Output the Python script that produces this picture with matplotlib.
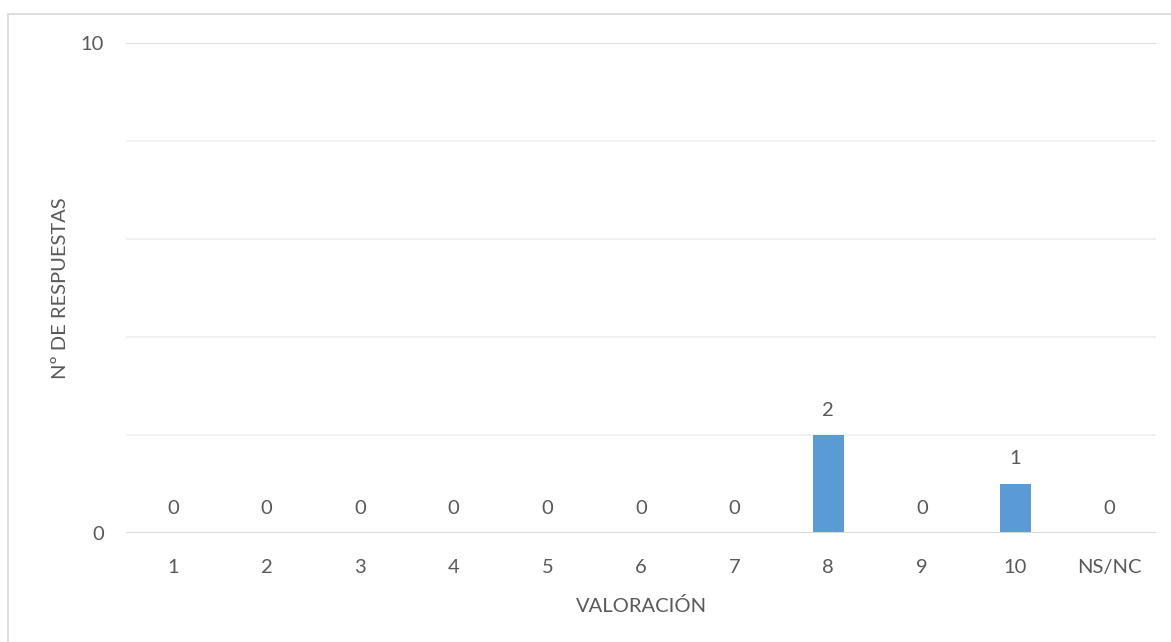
import matplotlib.pyplot as plt
from matplotlib.patches import Rectangle

categories = ['1', '2', '3', '4', '5', '6', '7', '8', '9', '10', 'NS/NC']
respuestas = [0, 0, 0, 0, 0, 0, 0, 2, 0, 1, 0]
major_ticks = [0, 10]
minor_ticks = [2, 4, 6, 8]

text_color = '#595959'
bar_color = '#5B9BD5'

plt.rcParams['font.family'] = ['Lato', 'DejaVu Sans']
fs = 14.5

fig = plt.figure(figsize=(11.71, 6.42), dpi=100)
ax = fig.add_axes([126 / 1171, 1 - 533 / 642, (1156 - 126) / 1171, (533 - 43) / 642])

# chart border (top and left visible, the rest is cut off)
fig.patches.append(Rectangle((8 / 1171, -0.1), 1.2, 1.1 - 14 / 642, transform=fig.transFigure,
                             fill=False, edgecolor='#D9D9D9', linewidth=1.2))

x = range(len(categories))
bars = ax.bar(x, respuestas, width=0.33, color=bar_color, zorder=3)
for xi, v in zip(x, respuestas):
    ax.annotate(str(v), (xi, v), xytext=(0, 18), textcoords='offset points',
                ha='center', va='center', fontsize=fs, color=text_color)

ax.set_xlim(-0.5, len(categories) - 0.5)
ax.set_ylim(0, 10)
ax.set_yticks(major_ticks)
ax.set_yticks(minor_ticks, minor=True)
ax.set_xticks(list(x), categories)

for y in minor_ticks:
    ax.axhline(y, color='#EFEFEF', linewidth=1.2, zorder=1)
ax.axhline(10, color='#D9D9D9', linewidth=1.2, zorder=1)
ax.axhline(0, color='#D9D9D9', linewidth=1.5, zorder=4)

for s in ax.spines.values():
    s.set_visible(False)
ax.tick_params(axis='both', which='both', length=0, colors=text_color, labelsize=fs)
ax.tick_params(axis='y', pad=16)
ax.tick_params(axis='x', pad=19)

ax.set_xlabel('VALORACIÓN', fontsize=fs, color=text_color)
ax.set_ylabel('Nº DE RESPUESTAS', fontsize=fs, color=text_color)
ax.xaxis.set_label_coords(0.5, -0.13)
ax.yaxis.set_label_coords(-0.055, 0.5)

fig.savefig('out.png', dpi=100)
